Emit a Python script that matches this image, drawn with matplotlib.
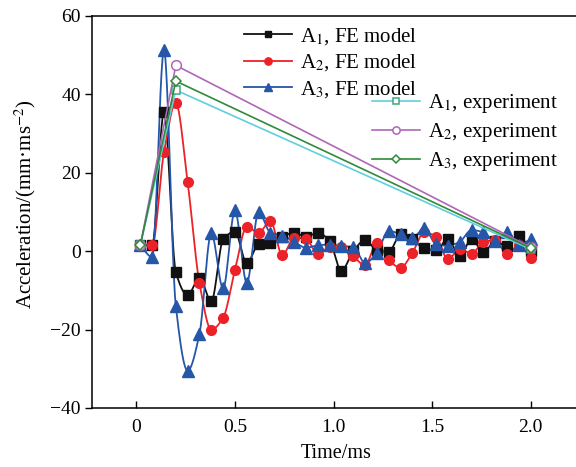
import numpy as np
import matplotlib
matplotlib.use('Agg')
import matplotlib.pyplot as plt

plt.rcParams.update({
    'font.family': 'Liberation Serif',
    'font.size': 14,
    'mathtext.fontset': 'stix',
})

# time axis of the FE model (ms)
t_fe = [0.02, 0.08, 0.14, 0.20, 0.26, 0.32, 0.38, 0.44, 0.50, 0.56, 0.62, 0.68,
        0.74, 0.80, 0.86, 0.92, 0.98, 1.04, 1.10, 1.16, 1.22, 1.28, 1.34, 1.40,
        1.46, 1.52, 1.58, 1.64, 1.70, 1.76, 1.82, 1.88, 1.94, 2.00]

a1_fe = [1.5, 1.5, 35.4, -5.3, -11.2, -6.8, -12.8, 3.0, 5.0, -3.1, 1.8, 2.0,
         3.7, 4.7, 3.7, 4.7, 2.6, -5.0, 0.0, 2.8, 0.3, -0.2, 4.3, 3.0,
         0.7, 0.3, 3.1, -1.3, 3.2, -0.3, 2.6, 1.2, 3.9, 0.0]
a2_fe = [1.5, 1.5, 25.3, 37.8, 17.6, -8.1, -20.0, -17.0, -4.8, 6.2, 4.7, 7.7,
         -1.0, 3.4, 3.2, -0.8, 1.1, 1.1, -1.3, -3.6, 2.1, -2.3, -4.2, -0.4,
         4.8, 3.7, -2.1, 0.6, -0.6, 2.3, 2.8, -0.7, 1.6, -1.8]
a3_fe = [1.5, -1.5, 51.3, -13.9, -30.5, -21.1, 4.6, -9.5, 10.4, -8.1, 10.0, 4.7,
         4.0, 2.4, 0.9, 1.5, 1.7, 1.3, 1.1, -3.0, -0.4, 5.2, 4.3, 3.4,
         5.8, 1.8, 1.4, 2.4, 5.4, 4.8, 2.6, 4.9, 1.7, 3.0]

# experiment
t_exp = [0.02, 0.20, 2.00]
a1_exp = [1.5, 41.1, 0.5]
a2_exp = [1.5, 47.4, 1.0]
a3_exp = [1.5, 43.4, 0.8]


def smooth(x, y, n=24):
    # monotone cubic (Fritsch-Carlson), only for drawing the connecting line
    x = np.asarray(x, float)
    y = np.asarray(y, float)
    h = np.diff(x)
    d = np.diff(y) / h
    m = np.zeros_like(y)
    m[0], m[-1] = d[0], d[-1]
    for k in range(1, len(x) - 1):
        if d[k - 1] * d[k] > 0:
            w1 = 2 * h[k] + h[k - 1]
            w2 = h[k] + 2 * h[k - 1]
            m[k] = (w1 + w2) / (w1 / d[k - 1] + w2 / d[k])
    xs, ys = [], []
    for i in range(len(x) - 1):
        s = np.linspace(0, 1, n, endpoint=False)
        h00 = 2 * s**3 - 3 * s**2 + 1
        h10 = s**3 - 2 * s**2 + s
        h01 = -2 * s**3 + 3 * s**2
        h11 = s**3 - s**2
        xs.append(x[i] + s * h[i])
        ys.append(h00 * y[i] + h10 * h[i] * m[i] + h01 * y[i + 1] + h11 * h[i] * m[i + 1])
    xs.append([x[-1]])
    ys.append([y[-1]])
    return np.concatenate(xs), np.concatenate(ys)


fig = plt.figure(figsize=(5.76, 4.67), dpi=100)
ax = fig.add_axes([92 / 576, 59 / 467, 488 / 576, 392 / 467])

fe = [(a1_fe, '#111111', 's', 6.5, 'A$_1$, FE model'),
      (a2_fe, '#ec2228', 'o', 7, 'A$_2$, FE model'),
      (a3_fe, '#2556a8', '^', 8, 'A$_3$, FE model')]
fe_handles = []
for vals, col, mk, ms, lab in fe:
    sx, sy = smooth(t_fe, vals)
    ax.plot(sx, sy, '-', color=col, lw=1.3, zorder=3)
    ax.plot(t_fe, vals, mk, color=col, ms=ms, zorder=4)
    h, = ax.plot([], [], '-', color=col, lw=1.3, marker=mk, ms=ms * 0.75, label=lab)
    fe_handles.append(h)

exp = [(a1_exp, '#5fcfdc', '#3aaa80', 's', 6, 'A$_1$, experiment'),
       (a2_exp, '#b066b8', '#b066b8', 'o', 7, 'A$_2$, experiment'),
       (a3_exp, '#2f8a3a', '#2f8a3a', 'D', 5.5, 'A$_3$, experiment')]
exp_handles = []
for vals, col, mcol, mk, ms, lab in exp:
    ax.plot(t_exp, vals, '-', color=col, lw=1.2, marker=mk, ms=ms,
            mfc='white', mec=mcol, mew=1.1, zorder=5)
    h, = ax.plot([], [], '-', color=col, lw=1.2, marker=mk, ms=ms * 0.75,
                 mfc='white', mec=mcol, mew=1.1, label=lab)
    exp_handles.append(h)

ax.set_xlim(-0.225, 2.25)
ax.set_ylim(-40, 60)
ax.set_xticks([0, 0.5, 1.0, 1.5, 2.0])
ax.set_xticklabels(['0', '0.5', '1.0', '1.5', '2.0'])
ax.set_yticks([-40, -20, 0, 20, 40, 60])
ax.set_yticklabels(['\u221240', '\u221220', '0', '20', '40', '60'])
ax.tick_params(axis='x', direction='in', length=5, width=1, labelsize=14, pad=8)
ax.tick_params(axis='y', direction='out', length=5, width=1, labelsize=14, pad=3)
for s in ax.spines.values():
    s.set_linewidth(1.1)
ax.set_xlabel('Time/ms', fontsize=14.5, labelpad=6)
ax.set_ylabel('Acceleration/(mm\u00b7ms$^{\u22122}$)', fontsize=15)
ax.yaxis.set_label_coords(-0.11, 0.52)

leg_kw = dict(loc='upper left', bbox_transform=fig.transFigure, frameon=False, fontsize=15,
              handlelength=2.3, handletextpad=0.4, borderpad=0, borderaxespad=0)
leg1 = ax.legend(handles=fe_handles, bbox_to_anchor=(244 / 576, 1 - 26 / 467),
                 labelspacing=0.27, **leg_kw)
ax.add_artist(leg1)
ax.legend(handles=exp_handles, bbox_to_anchor=(372 / 576, 1 - 92 / 467),
          labelspacing=0.3, **leg_kw)

fig.savefig('out.png', dpi=100)
